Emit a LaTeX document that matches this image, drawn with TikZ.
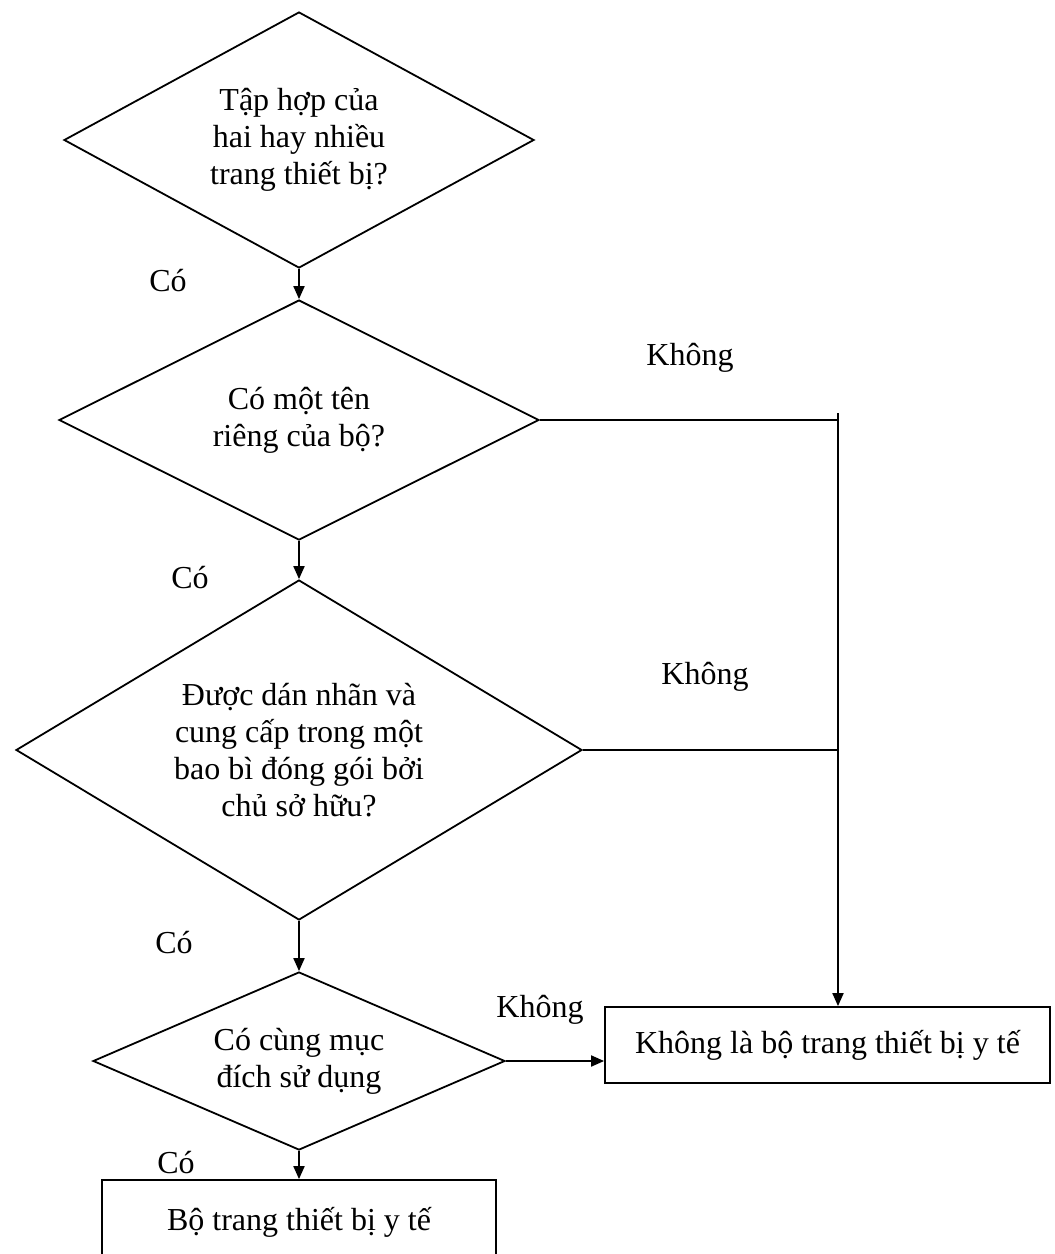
\documentclass[tikz,border=0pt]{standalone}
\usepackage{fontspec}
\setmainfont{Liberation Serif}
\usetikzlibrary{shapes.geometric,arrows.meta}
\begin{document}
\begin{tikzpicture}[x=1pt,y=-1pt,
  txt/.style={font=\fontsize{32}{37}\selectfont},
  decision/.style={diamond,draw,line width=1.8pt,inner sep=0pt,align=center,txt},
  outbox/.style={rectangle,draw,line width=1.8pt,inner sep=0pt,align=center,txt},
  conn/.style={line width=1.9pt},
  arr/.style={line width=1.9pt,-{Triangle[length=13pt,width=11pt]}},
  lbl/.style={txt,inner sep=0pt}]
\useasboundingbox (0,0) rectangle (1055,1254);
\clip (0,0) rectangle (1055,1254);
\fill[white] (0,0) rectangle (1055,1254);

\node[decision,minimum width=470pt,minimum height=256pt,aspect=1.84] (d1) at (299,140)
  {Tập hợp của\\hai hay nhiều\\trang thiết bị?};
\node[decision,minimum width=480pt,minimum height=240pt,aspect=2] (d2) at (299,420)
  {Có một tên\\riêng của bộ?};
\node[decision,minimum width=566pt,minimum height=340pt,aspect=1.67] (d3) at (299,750)
  {Được dán nhãn và\\cung cấp trong một\\bao bì đóng gói bởi\\chủ sở hữu?};
\node[decision,minimum width=412pt,minimum height=178pt,aspect=2.3] (d4) at (299,1061)
  {Có cùng mục\\đích sử dụng};

\node[outbox,minimum width=445pt,minimum height=76pt] (nb) at (827.5,1045)
  {Không là bộ trang thiết bị y tế};
\node[outbox,minimum width=394pt,minimum height=100pt] (yb) at (299,1230) {};
\node[lbl] (ybt) at (299,1222) {Bộ trang thiết bị y tế};

\coordinate (top) at (838,413);
\coordinate (j1) at (838,420);
\coordinate (j2) at (838,750);

\draw[arr] (d1.south) -- (d2.north);
\draw[arr] (d2.south) -- (d3.north);
\draw[arr] (d3.south) -- (d4.north);
\draw[arr] (d4.south) -- (d4.south |- yb.north);

\draw[conn] (d2.east) -- (j1);
\draw[conn] (d3.east) -- (j2);
\draw[arr] (top) -- (top |- nb.north);
\draw[arr] (d4.east) -- (d4.east -| nb.west);

\node[lbl] (c1) at (168,281) {Có};
\node[lbl] (c2) at (190,578) {Có};
\node[lbl] (c3) at (174,943) {Có};
\node[lbl] (c4) at (176,1163) {Có};
\node[lbl] (k1) at (690,358) {Không};
\node[lbl] (k2) at (705,677) {Không};
\node[lbl] (k3) at (540,1010) {Không};
\end{tikzpicture}
\end{document}
